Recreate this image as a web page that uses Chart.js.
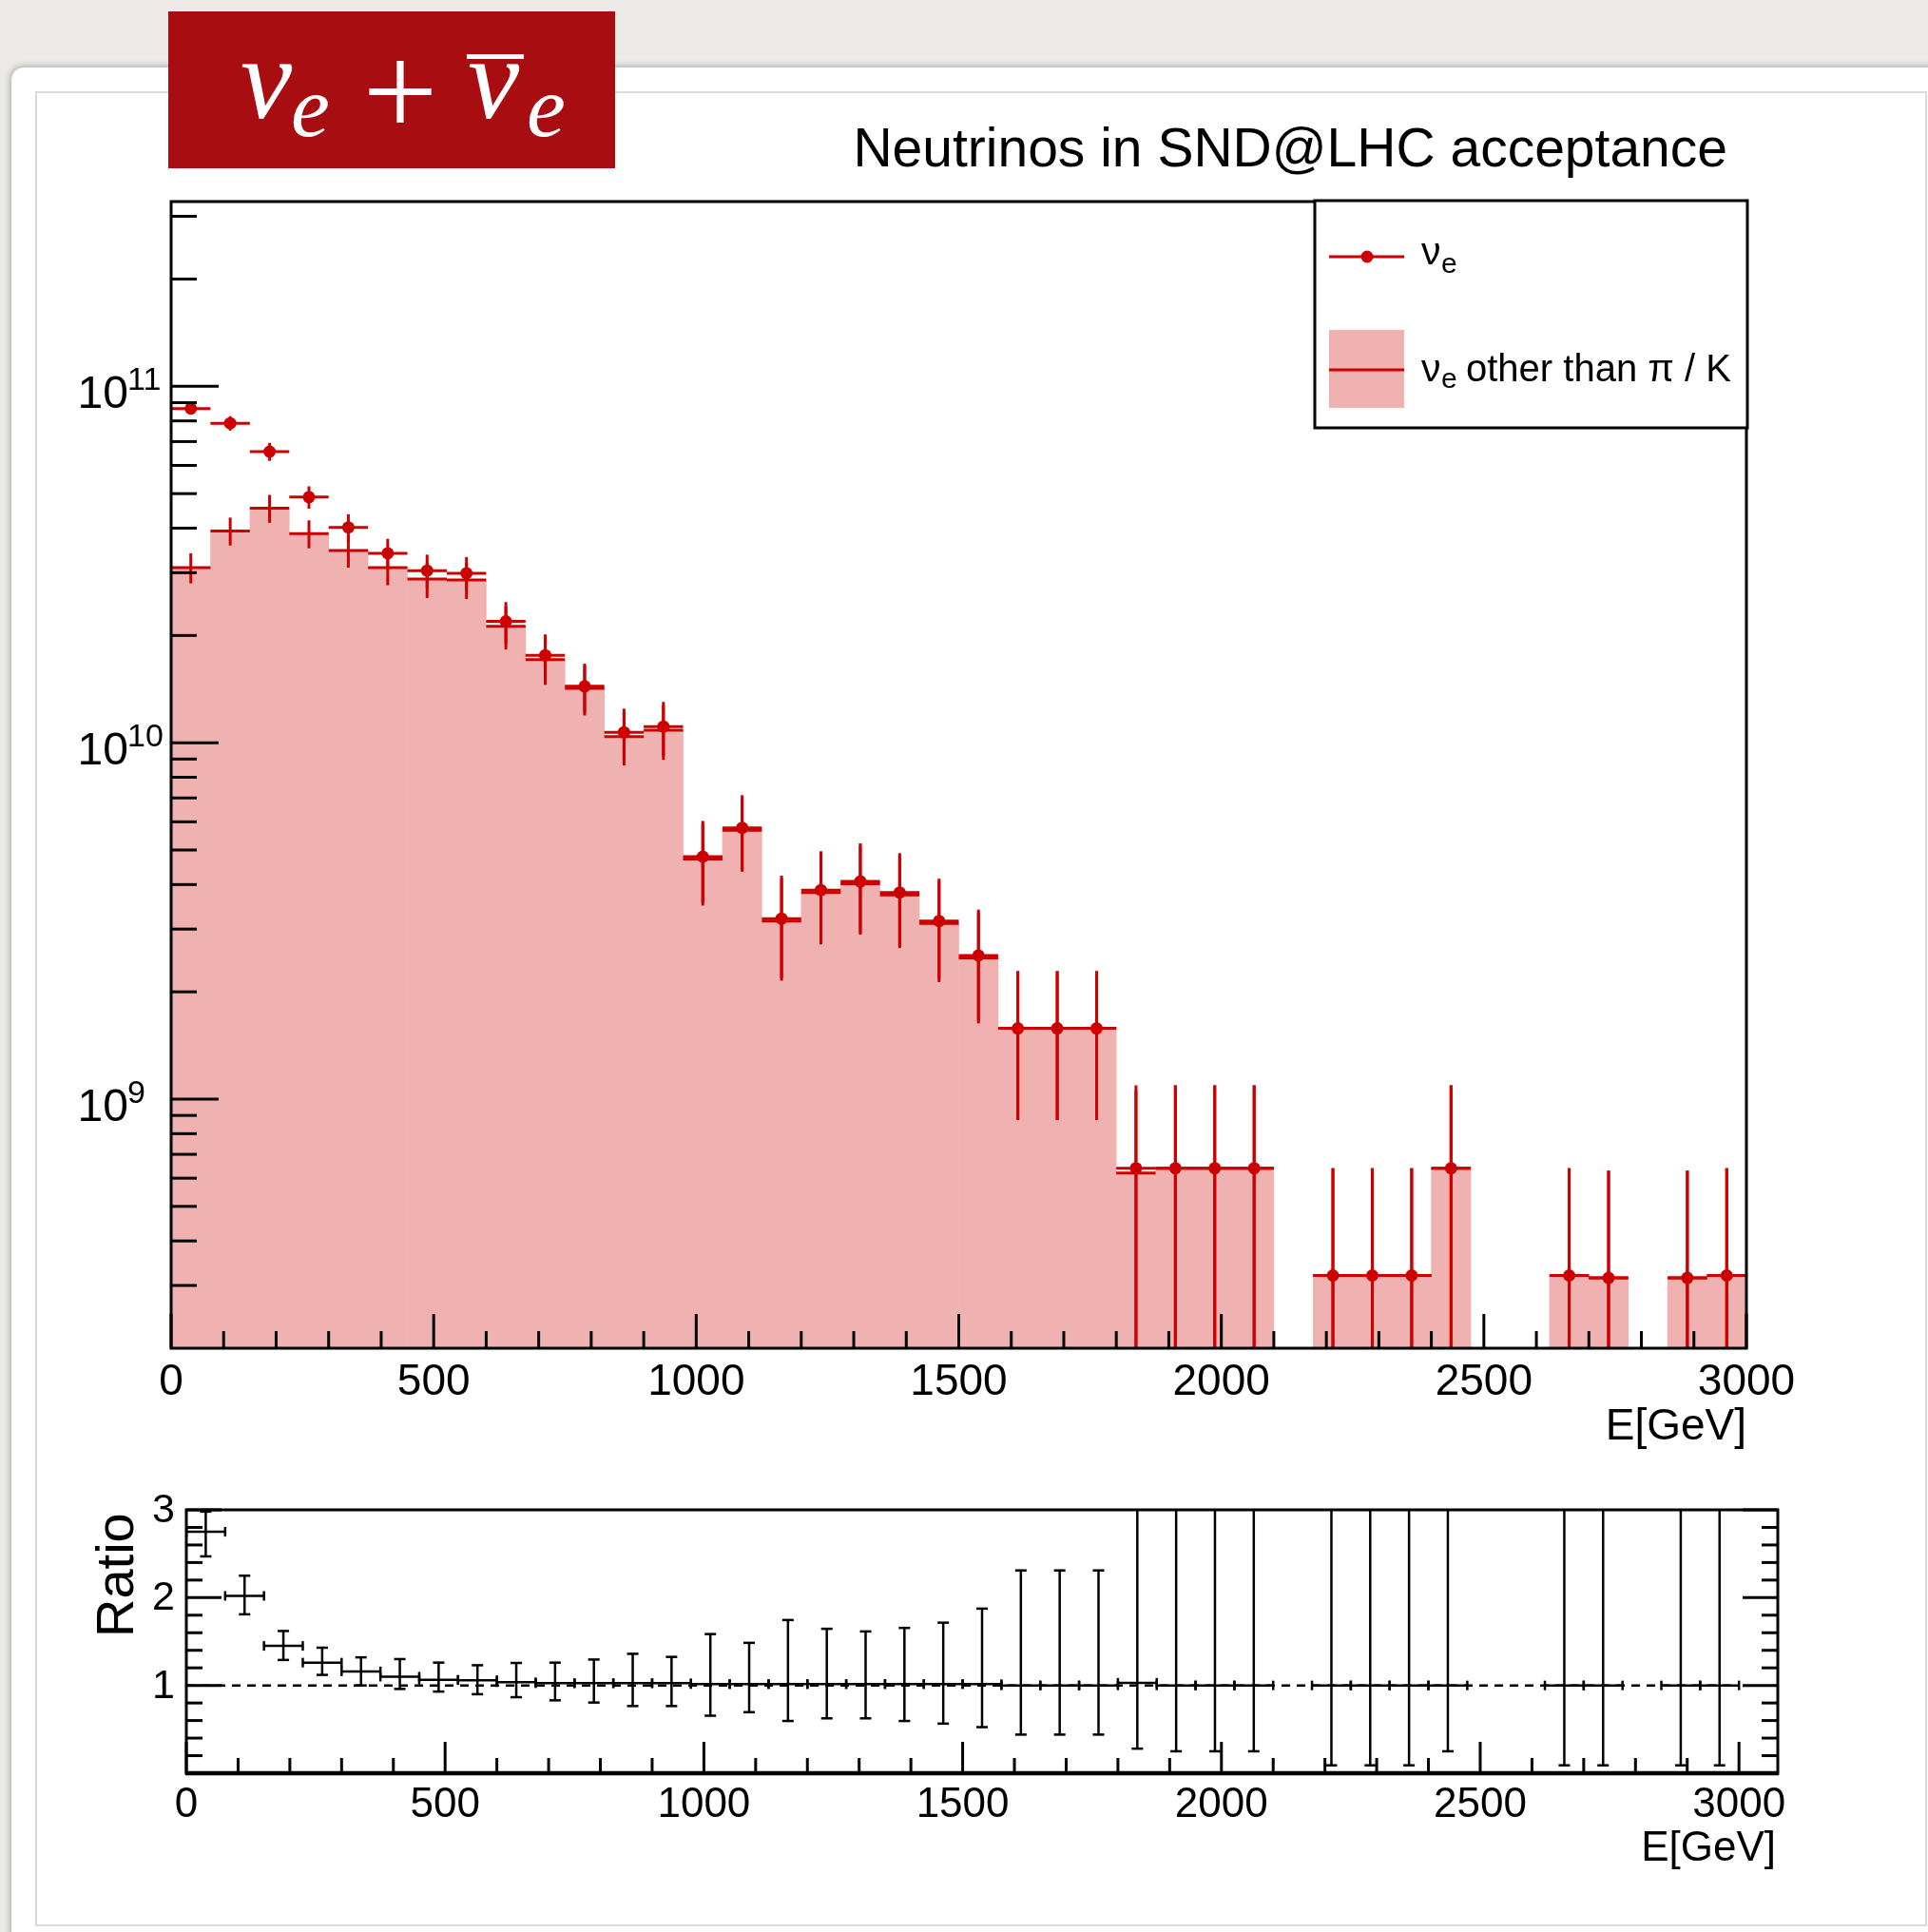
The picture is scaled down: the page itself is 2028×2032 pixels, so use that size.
<!DOCTYPE html>
<html lang="en">
<head>
<meta charset="UTF-8">
<title>Neutrinos in SND@LHC acceptance</title>
<script src="https://cdn.jsdelivr.net/npm/chart.js"></script>
<style>
  html, body { margin: 0; padding: 0; }
  body { width: 2028px; height: 2032px; overflow: hidden; position: relative; background: #ebeae7; }
  #panel { position: absolute; left: 11px; top: 70px; width: 2100px; height: 2100px; background: #fff;
           border: 1px solid #c4c4c4; border-radius: 14px; box-shadow: 0 0 7px rgba(0,0,0,0.30); }
  #inner { position: absolute; left: 37px; top: 96px; width: 1986px; height: 1926px; border: 2px solid #dadada; }
  canvas { position: absolute; left: 0; top: 0; }
</style>
</head>
<body>
<div id="panel"></div>
<div id="inner"></div>
<canvas id="mainPlot" width="2028" height="2032"></canvas>
<canvas id="ratioPlot" width="2028" height="2032"></canvas>
<script>
// bins of 75 GeV, 0 - 3000 GeV
const binCenters = [37.5, 112.5, 187.5, 262.5, 337.5, 412.5, 487.5, 562.5, 637.5, 712.5,
  787.5, 862.5, 937.5, 1012.5, 1087.5, 1162.5, 1237.5, 1312.5, 1387.5, 1462.5,
  1537.5, 1612.5, 1687.5, 1762.5, 1837.5, 1912.5, 1987.5, 2062.5, 2137.5, 2212.5,
  2287.5, 2362.5, 2437.5, 2512.5, 2587.5, 2662.5, 2737.5, 2812.5, 2887.5, 2962.5];
const binHalfWidth = 37.5;

// nu_e (all)
const nuE = [8.66e10, 7.88e10, 6.56e10, 4.89e10, 4.02e10, 3.40e10, 3.04e10, 2.99e10, 2.19e10, 1.76e10,
  1.44e10, 1.07e10, 1.11e10, 4.79e9, 5.77e9, 3.21e9, 3.86e9, 4.08e9, 3.80e9, 3.16e9,
  2.53e9, 1.58e9, 1.58e9, 1.58e9, 6.4e8, 6.4e8, 6.4e8, 6.4e8, null, 3.2e8,
  3.2e8, 3.2e8, 6.4e8, null, null, 3.2e8, 3.15e8, null, 3.15e8, 3.2e8];
const nuEErr = [0.035, 0.046, 0.058, 0.072, 0.089, 0.098, 0.109, 0.11, 0.133, 0.144,
  0.158, 0.165, 0.173, 0.26, 0.235, 0.32, 0.285, 0.28, 0.29, 0.315,
  0.345, 0.447, 0.447, 0.447, 0.707, 0.707, 0.707, 0.707, null, 1.0,
  1.0, 1.0, 0.707, null, null, 1.0, 1.0, null, 1.0, 1.0];

// nu_e other than pi / K
const otherNuE = [3.10e10, 3.93e10, 4.55e10, 3.86e10, 3.46e10, 3.10e10, 2.88e10, 2.86e10, 2.12e10, 1.71e10,
  1.42e10, 1.04e10, 1.085e10, 4.72e9, 5.68e9, 3.16e9, 3.80e9, 4.02e9, 3.74e9, 3.11e9,
  2.49e9, 1.58e9, 1.58e9, 1.58e9, 6.2e8, 6.4e8, 6.4e8, 6.4e8, null, 3.2e8,
  3.2e8, 3.2e8, 6.4e8, null, null, 3.2e8, 3.15e8, null, 3.15e8, 3.2e8];
const otherErr = [0.097, 0.09, 0.09, 0.09, 0.104, 0.108, 0.115, 0.115, 0.138, 0.15,
  0.16, 0.17, 0.175, 0.26, 0.235, 0.32, 0.285, 0.28, 0.29, 0.315,
  0.345, 0.447, 0.447, 0.447, 0.707, 0.707, 0.707, 0.707, null, 1.0,
  1.0, 1.0, 0.707, null, null, 1.0, 1.0, null, 1.0, 1.0];

// ratio panel
const ratioVals = [2.75, 2.02, 1.45, 1.26, 1.16, 1.10, 1.065, 1.06, 1.036, 1.025,
  1.025, 1.025, 1.025, 1.015, 1.015, 1.015, 1.015, 1.015, 1.015, 1.015,
  1.015, 1.0, 1.0, 1.0, 1.03, 1.0, 1.0, 1.0, null, 1.0,
  1.0, 1.0, 1.0, null, null, 1.0, 1.0, null, 1.0, 1.0];
const ratioErrUp = [0.23, 0.23, 0.17, 0.17, 0.16, 0.20, 0.195, 0.17, 0.22, 0.235,
  0.27, 0.335, 0.30, 0.57, 0.47, 0.73, 0.63, 0.60, 0.64, 0.70,
  0.86, 1.31, 1.31, 1.31, 2.5, 2.5, 2.5, 2.5, null, 4.0,
  4.0, 4.0, 2.5, null, null, 4.0, 4.0, null, 4.0, 4.0];
const ratioErrDown = [0.28, 0.21, 0.16, 0.14, 0.16, 0.14, 0.135, 0.16, 0.17, 0.195,
  0.22, 0.26, 0.26, 0.36, 0.32, 0.42, 0.39, 0.39, 0.42, 0.45,
  0.49, 0.56, 0.56, 0.56, 0.75, 0.75, 0.75, 0.75, null, 0.91,
  0.91, 0.91, 0.75, null, null, 0.91, 0.91, null, 0.91, 0.91];

const xTickLabels = ['0', '500', '1000', '1500', '2000', '2500', '3000'];
const yDecadeLabels = ['9', '10', '11'];
const ratioTickLabels = ['1', '2', '3'];

const RED = '#cc0000';
const PINK = 'rgb(240,178,176)';
const SANS = '"Liberation Sans", Arial, sans-serif';
const SERIF = '"Liberation Serif", "Times New Roman", serif';

function line(ctx, x1, y1, x2, y2) {
  ctx.beginPath(); ctx.moveTo(x1, y1); ctx.lineTo(x2, y2); ctx.stroke();
}

function inkText(ctx, str, font, inkLeft, inkBottom) {
  ctx.font = font; ctx.textAlign = 'left'; ctx.textBaseline = 'alphabetic';
  const m = ctx.measureText(str);
  ctx.fillText(str, inkLeft + m.actualBoundingBoxLeft, inkBottom - m.actualBoundingBoxDescent);
}

function inkCenter(ctx, str, font, cx, cy) {
  ctx.font = font; ctx.textAlign = 'left'; ctx.textBaseline = 'alphabetic';
  const m = ctx.measureText(str);
  const w = m.actualBoundingBoxLeft + m.actualBoundingBoxRight;
  const h = m.actualBoundingBoxAscent + m.actualBoundingBoxDescent;
  ctx.fillText(str, cx - w / 2 + m.actualBoundingBoxLeft, cy + h / 2 - m.actualBoundingBoxDescent);
}

function drawHistErrors(ctx, chart, values, relErr, color) {
  const xs = chart.scales.x, ys = chart.scales.y, a = chart.chartArea;
  ctx.strokeStyle = color;
  ctx.lineWidth = 3;
  values.forEach((v, i) => {
    if (v == null) return;
    const xc = xs.getPixelForValue(binCenters[i]);
    const xl = xs.getPixelForValue(binCenters[i] - binHalfWidth);
    const xr = xs.getPixelForValue(binCenters[i] + binHalfWidth);
    const y = ys.getPixelForValue(v);
    const lo = v * (1 - relErr[i]);
    const yLo = lo > ys.min ? ys.getPixelForValue(lo) : a.bottom;
    const yHi = Math.max(ys.getPixelForValue(v * (1 + relErr[i])), a.top);
    line(ctx, xl, y, xr, y);
    line(ctx, xc, yHi, xc, yLo);
  });
}

const mainDecor = {
  id: 'mainDecor',
  afterDatasetDraw(chart, args) {
    if (args.index !== 1) return;
    const ctx = chart.ctx, a = chart.chartArea;
    ctx.save();
    ctx.beginPath();
    ctx.rect(a.left, a.top, a.right - a.left, a.bottom - a.top);
    ctx.clip();
    drawHistErrors(ctx, chart, otherNuE, otherErr, RED);
    drawHistErrors(ctx, chart, nuE, nuEErr, RED);
    ctx.restore();
  },
  afterDraw(chart) {
    const ctx = chart.ctx, a = chart.chartArea;
    const xs = chart.scales.x, ys = chart.scales.y;
    ctx.save();
    ctx.strokeStyle = '#000';
    ctx.fillStyle = '#000';
    ctx.lineWidth = 3;
    ctx.strokeRect(a.left, a.top, a.right - a.left, a.bottom - a.top);

    // x ticks (inside)
    for (let v = 0; v <= 3000; v += 100) {
      const px = xs.getPixelForValue(v);
      line(ctx, px, a.bottom, px, a.bottom - (v % 500 === 0 ? 36 : 18));
    }
    // log y ticks
    for (let d = 8; d <= 11; d++) {
      for (let m = 1; m <= 9; m++) {
        const v = m * Math.pow(10, d);
        if (v <= ys.min * 1.001 || v > ys.max) continue;
        const py = ys.getPixelForValue(v);
        line(ctx, a.left, py, a.left + (m === 1 ? 50 : 27), py);
      }
    }

    // x labels
    ctx.font = '46px ' + SANS;
    ctx.textAlign = 'center';
    ctx.textBaseline = 'alphabetic';
    xTickLabels.forEach(t => ctx.fillText(t, xs.getPixelForValue(Number(t)), 1467));
    ctx.textAlign = 'right';
    ctx.fillText('E[GeV]', a.right, 1514);

    // y labels 10^n
    yDecadeLabels.forEach(e => {
      const py = ys.getPixelForValue(Math.pow(10, Number(e)));
      ctx.font = '48px ' + SANS;
      ctx.textAlign = 'right';
      ctx.fillText('10', 135, py + 23);
      ctx.font = '34px ' + SANS;
      ctx.textAlign = 'left';
      ctx.fillText(e, 134, py + 4);
    });

    // title
    ctx.font = '57px ' + SANS;
    ctx.textAlign = 'right';
    ctx.fillText('Neutrinos in SND@LHC acceptance', 1817, 175);

    // legend
    const dsNu = chart.data.datasets[0], dsOther = chart.data.datasets[1];
    ctx.fillStyle = '#fff';
    ctx.fillRect(1383, 211, 455, 239);
    ctx.lineWidth = 3;
    ctx.strokeStyle = '#000';
    ctx.strokeRect(1383, 211, 455, 239);
    ctx.strokeStyle = RED;
    line(ctx, 1398, 270, 1477, 270);
    ctx.fillStyle = dsNu.pointBackgroundColor;
    ctx.beginPath(); ctx.arc(1438, 270, 6.5, 0, Math.PI * 2); ctx.fill();
    ctx.fillStyle = dsOther.backgroundColor;
    ctx.fillRect(1398, 347, 79, 82);
    line(ctx, 1398, 389, 1477, 389);
    ctx.fillStyle = '#000';
    ctx.textAlign = 'left';
    ctx.font = '41px ' + SANS;
    ctx.fillText('ν', 1495, 278);
    ctx.fillText('ν', 1495, 401);
    ctx.font = '40px ' + SANS;
    ctx.fillText('other than π / K', 1542, 401);
    ctx.font = '30px ' + SANS;
    ctx.fillText('e', 1516, 287);
    ctx.fillText('e', 1516, 408);

    // red badge
    ctx.fillStyle = '#a70d11';
    ctx.fillRect(177, 12, 470, 165);
    ctx.fillStyle = '#fff';
    inkText(ctx, 'ν', 'italic 122px ' + SERIF, 254, 125);
    inkText(ctx, 'e', 'italic 92px ' + SERIF, 308, 144);
    inkCenter(ctx, '+', '140px ' + SERIF, 421, 96);
    inkText(ctx, 'ν', 'italic 122px ' + SERIF, 493, 125);
    ctx.fillRect(491, 57, 60, 5);
    inkText(ctx, 'e', 'italic 92px ' + SERIF, 556, 144);
    ctx.restore();
  }
};

new Chart(document.getElementById('mainPlot'), {
  type: 'bar',
  data: {
    datasets: [
      {
        type: 'scatter',
        label: 'νe',
        data: binCenters.map((x, i) => ({ x: x, y: nuE[i] })),
        pointRadius: 6.5,
        pointBackgroundColor: RED,
        pointBorderWidth: 0,
        order: 0
      },
      {
        type: 'bar',
        label: 'νe other than π / K',
        data: binCenters.map((x, i) => ({ x: x, y: otherNuE[i] })),
        backgroundColor: PINK,
        borderWidth: 0,
        barPercentage: 1,
        categoryPercentage: 1,
        order: 1
      }
    ]
  },
  options: {
    responsive: false,
    animation: false,
    devicePixelRatio: 1,
    layout: { padding: { left: 180, top: 212, right: 191, bottom: 614 } },
    plugins: { legend: { display: false }, tooltip: { enabled: false } },
    scales: {
      x: { type: 'linear', min: 0, max: 3000, offset: false, display: false, ticks: { stepSize: 500 } },
      y: { type: 'logarithmic', min: 2e8, max: 3.3e11, display: false }
    }
  },
  plugins: [mainDecor]
});

const ratioDecor = {
  id: 'ratioDecor',
  afterDatasetsDraw(chart) {
    const ctx = chart.ctx, a = chart.chartArea;
    const xs = chart.scales.x, ys = chart.scales.y;
    ctx.save();
    ctx.beginPath();
    ctx.rect(a.left, a.top, a.right - a.left, a.bottom - a.top);
    ctx.clip();
    ctx.strokeStyle = '#000';
    ctx.lineWidth = 2.5;
    // reference line at 1
    ctx.setLineDash([9, 7]);
    line(ctx, xs.getPixelForValue(0), ys.getPixelForValue(1), xs.getPixelForValue(3000), ys.getPixelForValue(1));
    ctx.setLineDash([]);
    ratioVals.forEach((r, i) => {
      if (r == null) return;
      const xc = xs.getPixelForValue(binCenters[i]);
      const xl = xs.getPixelForValue(binCenters[i] - binHalfWidth);
      const xr = xs.getPixelForValue(binCenters[i] + binHalfWidth);
      const y = ys.getPixelForValue(r);
      const yHi = ys.getPixelForValue(r + ratioErrUp[i]);
      const yLo = ys.getPixelForValue(r - ratioErrDown[i]);
      line(ctx, xl, y, xr, y);
      line(ctx, xl, y - 5, xl, y + 5);
      line(ctx, xr, y - 5, xr, y + 5);
      line(ctx, xc, yHi, xc, yLo);
      if (yHi > a.top) line(ctx, xc - 6, yHi, xc + 6, yHi);
      line(ctx, xc - 6, yLo, xc + 6, yLo);
    });
    ctx.restore();
  },
  afterDraw(chart) {
    const ctx = chart.ctx, a = chart.chartArea;
    const xs = chart.scales.x, ys = chart.scales.y;
    ctx.save();
    ctx.strokeStyle = '#000';
    ctx.fillStyle = '#000';
    ctx.lineWidth = 3;
    ctx.strokeRect(a.left, a.top, a.right - a.left, a.bottom - a.top);
    ctx.lineWidth = 4.5;
    line(ctx, a.left - 1, a.bottom, a.right + 1, a.bottom);
    ctx.lineWidth = 3;

    for (let v = 0; v <= 3000; v += 100) {
      const px = xs.getPixelForValue(v);
      line(ctx, px, a.bottom, px, a.bottom - (v % 500 === 0 ? 33 : 16));
    }
    for (let k = 1; k <= 15; k++) {
      const v = k * 0.2;
      const py = ys.getPixelForValue(v);
      const len = (k % 5 === 0) ? 37 : 17;
      line(ctx, a.left, py, a.left + len, py);
      line(ctx, a.right, py, a.right - len, py);
    }

    ctx.font = '44px ' + SANS;
    ctx.textAlign = 'center';
    ctx.textBaseline = 'alphabetic';
    xTickLabels.forEach(t => ctx.fillText(t, xs.getPixelForValue(Number(t)), 1911));
    ctx.textAlign = 'right';
    ctx.fillText('E[GeV]', 1868, 1957);

    ctx.font = '43px ' + SANS;
    ctx.textBaseline = 'middle';
    ratioTickLabels.forEach(t => ctx.fillText(t, 184, ys.getPixelForValue(Number(t)) + 1));

    ctx.font = '56px ' + SANS;
    ctx.textAlign = 'left';
    ctx.textBaseline = 'alphabetic';
    ctx.translate(140, 1722);
    ctx.rotate(-Math.PI / 2);
    ctx.fillText('Ratio', 0, 0);
    ctx.restore();
  }
};

new Chart(document.getElementById('ratioPlot'), {
  type: 'scatter',
  data: {
    datasets: [{
      label: 'Ratio',
      data: binCenters.map((x, i) => ({ x: x, y: ratioVals[i] })),
      pointRadius: 0,
      showLine: false
    }]
  },
  options: {
    responsive: false,
    animation: false,
    devicePixelRatio: 1,
    layout: { padding: { left: 196, top: 1588, right: 158, bottom: 167 } },
    plugins: { legend: { display: false }, tooltip: { enabled: false } },
    scales: {
      x: { type: 'linear', min: 0, max: 3075, display: false },
      y: { type: 'linear', min: 0, max: 3, display: false }
    }
  },
  plugins: [ratioDecor]
});
</script>
</body>
</html>
